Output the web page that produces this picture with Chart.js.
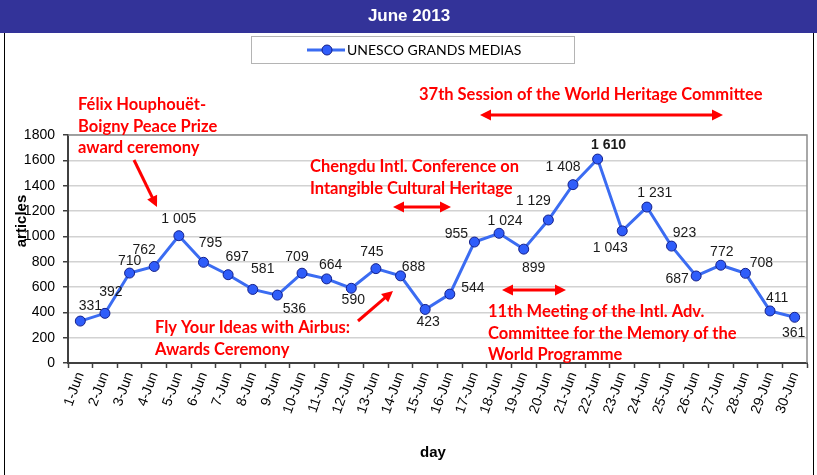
<!DOCTYPE html>
<html lang="en">
<head>
<meta charset="UTF-8">
<title>June 2013</title>
<script src="https://cdn.jsdelivr.net/npm/chart.js"></script>
<style>
  html, body { margin: 0; padding: 0; background: #fff; }
  #wrap { width: 817px; height: 475px; }
</style>
</head>
<body>
<div id="wrap"><canvas id="chart" width="817" height="475"></canvas></div>
<script>
// ---- data ----
const days = ['1-Jun', '2-Jun', '3-Jun', '4-Jun', '5-Jun', '6-Jun', '7-Jun', '8-Jun', '9-Jun', '10-Jun',
              '11-Jun', '12-Jun', '13-Jun', '14-Jun', '15-Jun', '16-Jun', '17-Jun', '18-Jun', '19-Jun', '20-Jun',
              '21-Jun', '22-Jun', '23-Jun', '24-Jun', '25-Jun', '26-Jun', '27-Jun', '28-Jun', '29-Jun', '30-Jun'];
const articles = [331, 392, 710, 762, 1005, 795, 697, 581, 536, 709,
                  664, 590, 745, 688, 423, 544, 955, 1024, 899, 1129,
                  1408, 1610, 1043, 1231, 923, 687, 772, 708, 411, 361];
const seriesName = 'UNESCO GRANDS MEDIAS';
const yTicks = [0, 200, 400, 600, 800, 1000, 1200, 1400, 1600, 1800];

// where each value label sits relative to its point (dx, dy in px)
const labelOffsets = [[10, -15], [6, -21], [0, -12], [-10, -16], [0, -17], [7, -19], [9, -18], [10, -20], [17, 14], [-5, -16],
                      [4, -14], [2, 12], [-4, -16], [13, -9], [3, 13], [23, -6], [-18, -8], [6, -12], [10, 19], [-15, -19],
                      [-10, -18], [11, -14], [-12, 17], [8, -14], [13, -13], [-19, 3], [1, -13], [16, -10], [7, -13], [-1, 16]];
const peakIndex = 21;

// red notes drawn over the chart
const notes = [
  { lines: ['Félix Houphouët-', 'Boigny Peace Prize', 'award ceremony'], x: 78, y: 105 },
  { lines: ['37th Session of the World Heritage Committee'], x: 419, y: 95 },
  { lines: ['Chengdu Intl. Conference on', 'Intangible Cultural Heritage'], x: 310, y: 167 },
  { lines: ['Fly Your Ideas with Airbus:', 'Awards Ceremony'], x: 155, y: 328 },
  { lines: ['11th Meeting of the Intl. Adv.', 'Committee for the Memory of the', 'World Programme'], x: 488, y: 312 }
];
const arrows = [
  { from: [134, 160], to: [157, 207], both: false },
  { from: [358, 321], to: [393, 291], both: false },
  { from: [480, 115], to: [723, 115], both: true },
  { from: [393, 207], to: [451, 207], both: true },
  { from: [502, 290], to: [566, 290], both: true }
];

const BLUE = '#3b6cf2';
const POINT_FILL = '#2f5dfa';
const POINT_EDGE = '#14208a';
const RED = '#ff0000';
const FONT = '"Liberation Sans", Arial, sans-serif';
const NOTE_FONT = 'bold 16.5px Lato, "Open Sans", sans-serif';

function fmt(v) {
  if (v < 1000) return String(v);
  return Math.floor(v / 1000) + ' ' + String(v % 1000).padStart(3, '0');
}

function drawArrowHead(ctx, x1, y1, x2, y2) {
  const a = Math.atan2(y2 - y1, x2 - x1);
  const len = 11, w = 5.5;
  ctx.beginPath();
  ctx.moveTo(x2, y2);
  ctx.lineTo(x2 - len * Math.cos(a) + w * Math.sin(a), y2 - len * Math.sin(a) - w * Math.cos(a));
  ctx.lineTo(x2 - len * Math.cos(a) - w * Math.sin(a), y2 - len * Math.sin(a) + w * Math.cos(a));
  ctx.closePath();
  ctx.fill();
}

function drawArrow(ctx, arr) {
  const [x1, y1] = arr.from, [x2, y2] = arr.to;
  const a = Math.atan2(y2 - y1, x2 - x1);
  const sx = arr.both ? x1 + 8 * Math.cos(a) : x1, sy = arr.both ? y1 + 8 * Math.sin(a) : y1;
  ctx.beginPath();
  ctx.moveTo(sx, sy);
  ctx.lineTo(x2 - 8 * Math.cos(a), y2 - 8 * Math.sin(a));
  ctx.stroke();
  drawArrowHead(ctx, x1, y1, x2, y2);
  if (arr.both) drawArrowHead(ctx, x2, y2, x1, y1);
}

const decorations = {
  id: 'decorations',
  beforeDraw(chart) {
    const ctx = chart.ctx;
    ctx.save();
    // title band
    ctx.fillStyle = '#333399';
    ctx.fillRect(0, 0, 817, 33);
    ctx.fillStyle = '#fff';
    ctx.font = 'bold 17px ' + FONT;
    ctx.textAlign = 'center';
    ctx.textBaseline = 'middle';
    ctx.fillText('June 2013', 409, 16);
    // outer frame
    ctx.strokeStyle = '#000';
    ctx.lineWidth = 1;
    ctx.beginPath();
    ctx.moveTo(4.5, 33); ctx.lineTo(4.5, 475);
    ctx.moveTo(813.5, 33); ctx.lineTo(813.5, 475);
    ctx.stroke();
    ctx.restore();
  },
  beforeDatasetsDraw(chart) {
    const { ctx, chartArea: ca } = chart;
    ctx.save();
    ctx.strokeStyle = '#8c8c8c';
    ctx.lineWidth = 1.5;
    ctx.beginPath();
    ctx.moveTo(ca.left, ca.top); ctx.lineTo(ca.right, ca.top); ctx.lineTo(ca.right, ca.bottom);
    ctx.stroke();
    ctx.restore();
  },
  afterDatasetsDraw(chart) {
    const ctx = chart.ctx;
    const meta = chart.getDatasetMeta(0);
    ctx.save();
    ctx.textAlign = 'center';
    ctx.textBaseline = 'middle';
    ctx.fillStyle = '#1a1a1a';
    meta.data.forEach((pt, i) => {
      ctx.font = (i === peakIndex ? 'bold ' : '') + '14px ' + FONT;
      ctx.fillText(fmt(articles[i]), pt.x + labelOffsets[i][0], pt.y + labelOffsets[i][1]);
    });
    ctx.restore();
  },
  afterDraw(chart) {
    const ctx = chart.ctx;
    ctx.save();
    // legend
    ctx.fillStyle = '#fff';
    ctx.strokeStyle = '#b4b4b4';
    ctx.lineWidth = 1;
    ctx.fillRect(251, 36, 323, 27);
    ctx.strokeRect(251.5, 36.5, 323, 27);
    ctx.strokeStyle = BLUE;
    ctx.lineWidth = 3;
    ctx.beginPath();
    ctx.moveTo(307, 50); ctx.lineTo(345, 50);
    ctx.stroke();
    ctx.fillStyle = POINT_FILL;
    ctx.strokeStyle = POINT_EDGE;
    ctx.lineWidth = 1;
    ctx.beginPath();
    ctx.arc(327, 50, 5, 0, Math.PI * 2);
    ctx.fill(); ctx.stroke();
    ctx.fillStyle = '#000';
    ctx.font = '14px Lato, "Open Sans", sans-serif';
    ctx.textAlign = 'left';
    ctx.textBaseline = 'middle';
    ctx.fillText(seriesName, 347, 50);

    // axis titles
    ctx.font = 'bold 15px ' + FONT;
    ctx.textAlign = 'center';
    ctx.fillText('day', 433, 453);
    ctx.save();
    ctx.translate(22, 221);
    ctx.rotate(-Math.PI / 2);
    ctx.fillText('articles', 0, 0);
    ctx.restore();

    // red notes
    ctx.fillStyle = RED;
    ctx.strokeStyle = RED;
    ctx.font = NOTE_FONT;
    ctx.textAlign = 'left';
    notes.forEach(n => n.lines.forEach((t, k) => ctx.fillText(t, n.x, n.y + k * 21.5)));
    ctx.lineWidth = 3;
    arrows.forEach(a => drawArrow(ctx, a));
    ctx.restore();
  }
};

new Chart(document.getElementById('chart'), {
  type: 'line',
  data: {
    labels: days,
    datasets: [{
      label: seriesName,
      data: articles,
      borderColor: BLUE,
      borderWidth: 3,
      backgroundColor: POINT_FILL,
      pointBackgroundColor: POINT_FILL,
      pointBorderColor: POINT_EDGE,
      pointBorderWidth: 1,
      pointRadius: 5,
      tension: 0,
      fill: false
    }]
  },
  options: {
    responsive: false,
    animation: false,
    devicePixelRatio: 1,
    layout: { padding: { top: 135, right: 10, bottom: 0, left: 0 } },
    plugins: { legend: { display: false }, title: { display: false }, tooltip: { enabled: false } },
    scales: {
      x: {
        offset: true,
        grid: { drawOnChartArea: false, drawTicks: true, tickLength: 5, offset: true, tickColor: '#404040', tickWidth: 1.5 },
        border: { color: '#404040', width: 2 },
        ticks: { autoSkip: false, minRotation: 70, maxRotation: 70, padding: 2, color: '#000', font: { family: FONT, size: 14 } },
        afterFit(scale) { scale.height = 112; }
      },
      y: {
        min: 0,
        max: 1800,
        afterBuildTicks(scale) { scale.ticks = yTicks.map(v => ({ value: v })); },
        grid: { color: '#d2d2d2', lineWidth: 1.5, tickLength: 5, tickColor: '#404040', tickWidth: 1.5 },
        border: { color: '#404040', width: 2 },
        ticks: { padding: 8, color: '#000', font: { family: FONT, size: 14 }, callback: v => String(v) },
        afterFit(scale) { scale.width = 68; }
      }
    }
  },
  plugins: [decorations]
});
</script>
</body>
</html>
